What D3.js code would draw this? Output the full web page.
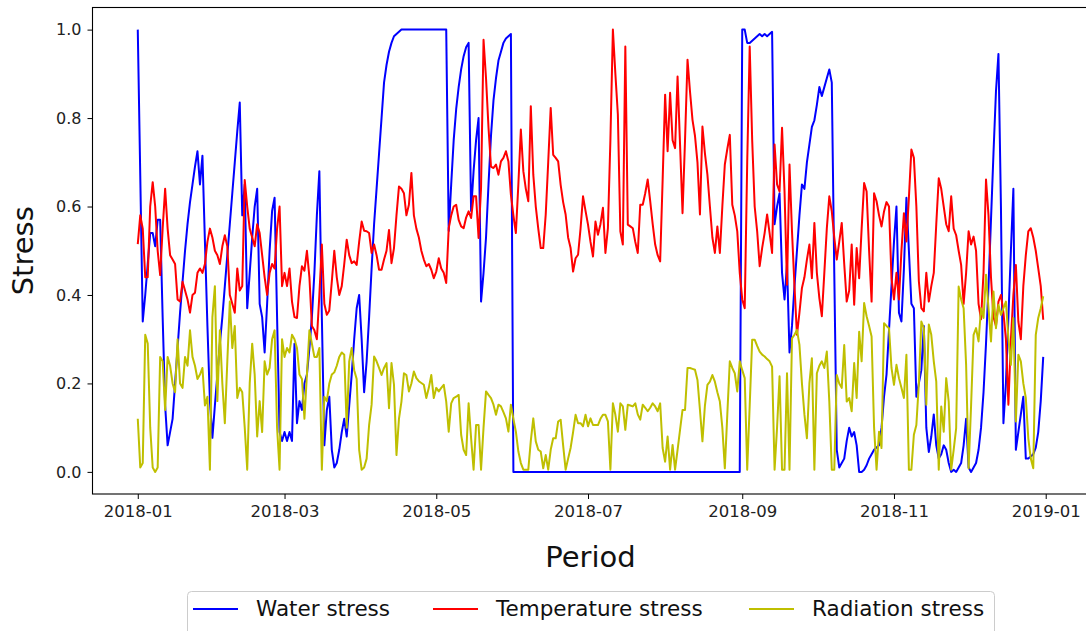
<!DOCTYPE html>
<html>
<head>
<meta charset="utf-8">
<script src="https://cdn.jsdelivr.net/npm/d3@7/dist/d3.min.js"></script>
<style>
  html, body { margin: 0; padding: 0; background: #fff; }
  svg { display: block; font-family: "DejaVu Sans", sans-serif; }
</style>
</head>
<body>
<svg id="chart" width="1086" height="631"></svg>
<script>
// ---- DATA (daily values, 2018-01-01 .. 2018-12-31) ----
const startDate = "2018-01-01";
const seriesNames = ["Water stress", "Temperature stress", "Radiation stress"];
const xTickLabels = ["2018-01", "2018-03", "2018-05", "2018-07", "2018-09", "2018-11", "2019-01"];
const yTickValues = [0.0, 0.2, 0.4, 0.6, 0.8, 1.0];

const waterStress = [
  1.0, 0.67, 0.34, 0.4, 0.47, 0.54, 0.54, 0.51, 0.57, 0.57,
  0.35, 0.15, 0.06, 0.09, 0.12, 0.2, 0.28, 0.36, 0.43, 0.5,
  0.56, 0.61, 0.65, 0.69, 0.725, 0.65, 0.715, 0.52, 0.33, 0.16,
  0.077, 0.15, 0.22, 0.29, 0.35, 0.42, 0.49, 0.56, 0.63, 0.7,
  0.77, 0.835, 0.58, 0.65, 0.37, 0.45, 0.53, 0.6, 0.64, 0.38,
  0.35, 0.27, 0.38, 0.5, 0.59, 0.62, 0.35, 0.09, 0.07, 0.09,
  0.07, 0.09, 0.07, 0.29, 0.11, 0.16, 0.14, 0.2, 0.22, 0.28,
  0.35, 0.45, 0.58, 0.68, 0.35, 0.06, 0.14, 0.17, 0.05, 0.01,
  0.02, 0.05, 0.09, 0.12, 0.08, 0.15, 0.22, 0.3, 0.37, 0.4,
  0.3, 0.18, 0.25, 0.35, 0.46, 0.56, 0.64, 0.72, 0.8, 0.88,
  0.92, 0.95, 0.97, 0.985, 0.99, 0.995, 1, 1, 1, 1,
  1, 1, 1, 1, 1, 1, 1, 1, 1, 1,
  1, 1, 1, 1, 1, 0.545, 0.65, 0.75, 0.82, 0.87,
  0.91, 0.94, 0.96, 0.97, 0.59, 0.68, 0.75, 0.8, 0.385, 0.45,
  0.53, 0.65, 0.76, 0.84, 0.89, 0.93, 0.95, 0.97, 0.98, 0.985,
  0.99, 0, 0, 0, 0, 0, 0, 0, 0, 0,
  0, 0, 0, 0, 0, 0, 0, 0, 0, 0,
  0, 0, 0, 0, 0, 0, 0, 0, 0, 0,
  0, 0, 0, 0, 0, 0, 0, 0, 0, 0,
  0, 0, 0, 0, 0, 0, 0, 0, 0, 0,
  0, 0, 0, 0, 0, 0, 0, 0, 0, 0,
  0, 0, 0, 0, 0, 0, 0, 0, 0, 0,
  0, 0, 0, 0, 0, 0, 0, 0, 0, 0,
  0, 0, 0, 0, 0, 0, 0, 0, 0, 0,
  0, 0, 0, 1, 1, 0.97, 0.97, 0.975, 0.98, 0.985,
  0.99, 0.985, 0.99, 0.985, 0.99, 0.995, 0.56, 0.6, 0.63, 0.45,
  0.39, 0.47, 0.27, 0.33, 0.42, 0.5, 0.58, 0.65, 0.64, 0.7,
  0.74, 0.78, 0.795, 0.83, 0.87, 0.85, 0.87, 0.89, 0.91, 0.88,
  0.45, 0.05, 0.01, 0.02, 0.03, 0.07, 0.1, 0.08, 0.09, 0.06,
  0, 0, 0.005, 0.015, 0.03, 0.04, 0.05, 0.055, 0.06, 0.1,
  0.17, 0.22, 0.32, 0.42, 0.52, 0.6, 0.36, 0.34, 0.46, 0.62,
  0.5, 0.38, 0.37, 0.17, 0.2, 0.23, 0.33, 0.1, 0.045, 0.08,
  0.13, 0.06, 0.03, 0.04, 0.06, 0.05, 0.02, 0, 0.005, 0,
  0.01, 0.02, 0.06, 0.12, 0.01, 0, 0.01, 0.02, 0.05, 0.1,
  0.18, 0.29, 0.42, 0.57, 0.72, 0.86, 0.945, 0.6, 0.11, 0.2,
  0.35, 0.5, 0.64, 0.05, 0.09, 0.13, 0.17, 0.03, 0.03, 0.035,
  0.04, 0.055, 0.09, 0.16, 0.26
];

const temperatureStress = [
  0.515, 0.58, 0.55, 0.44, 0.44, 0.6, 0.655, 0.6, 0.5, 0.445,
  0.55, 0.64, 0.55, 0.49, 0.48, 0.47, 0.39, 0.385, 0.43, 0.41,
  0.39, 0.36, 0.4, 0.405, 0.45, 0.46, 0.45, 0.47, 0.52, 0.55,
  0.53, 0.5, 0.49, 0.47, 0.51, 0.535, 0.51, 0.4, 0.38, 0.36,
  0.46, 0.41, 0.42, 0.66, 0.6, 0.55, 0.53, 0.51, 0.56, 0.54,
  0.49, 0.44, 0.4, 0.45, 0.47, 0.46, 0.55, 0.6, 0.42, 0.45,
  0.42, 0.46, 0.385, 0.35, 0.348, 0.42, 0.465, 0.455, 0.5, 0.44,
  0.33, 0.32, 0.3, 0.4, 0.514, 0.38, 0.355, 0.365, 0.43, 0.5,
  0.44, 0.4, 0.42, 0.47, 0.525, 0.49, 0.472, 0.476, 0.468, 0.52,
  0.566, 0.545, 0.544, 0.54, 0.495, 0.514, 0.49, 0.457, 0.457, 0.48,
  0.5, 0.547, 0.472, 0.506, 0.58, 0.645, 0.64, 0.63, 0.58, 0.604,
  0.676, 0.58, 0.55, 0.53, 0.5, 0.48, 0.465, 0.47, 0.457, 0.438,
  0.453, 0.483, 0.46, 0.45, 0.427, 0.551, 0.58, 0.6, 0.604, 0.57,
  0.555, 0.551, 0.575, 0.589, 0.574, 0.623, 0.623, 0.529, 0.642, 0.977,
  0.89, 0.778, 0.69, 0.687, 0.695, 0.672, 0.702, 0.71, 0.725, 0.702,
  0.627, 0.58, 0.54, 0.65, 0.774, 0.68, 0.64, 0.612, 0.827, 0.672,
  0.6, 0.55, 0.506, 0.506, 0.582, 0.7, 0.823, 0.717, 0.71, 0.702,
  0.649, 0.61, 0.582, 0.53, 0.506, 0.453, 0.483, 0.491, 0.55, 0.623,
  0.59, 0.559, 0.52, 0.487, 0.566, 0.536, 0.56, 0.597, 0.495, 0.551,
  0.75, 1.0, 0.9, 0.808, 0.544, 0.514, 0.962, 0.559, 0.555, 0.551,
  0.52, 0.495, 0.604, 0.604, 0.63, 0.661, 0.612, 0.56, 0.514, 0.49,
  0.476, 0.66, 0.853, 0.725, 0.857, 0.75, 0.732, 0.894, 0.74, 0.585,
  0.75, 0.932, 0.86, 0.796, 0.76, 0.7, 0.582, 0.781, 0.72, 0.672,
  0.6, 0.53, 0.495, 0.555, 0.495, 0.6, 0.695, 0.73, 0.762, 0.604,
  0.58, 0.544, 0.45, 0.39, 0.37, 0.7, 0.962, 0.75, 0.6, 0.544,
  0.465, 0.506, 0.54, 0.582, 0.54, 0.495, 0.74, 0.65, 0.634, 0.778,
  0.634, 0.423, 0.695, 0.544, 0.42, 0.31, 0.36, 0.416, 0.44, 0.48,
  0.514, 0.438, 0.563, 0.45, 0.393, 0.352, 0.45, 0.55, 0.623, 0.589,
  0.53, 0.48, 0.52, 0.563, 0.47, 0.385, 0.41, 0.514, 0.378, 0.506,
  0.438, 0.55, 0.653, 0.634, 0.5, 0.385, 0.63, 0.612, 0.58, 0.555,
  0.589, 0.61, 0.6, 0.438, 0.39, 0.45, 0.39, 0.5, 0.585, 0.521,
  0.62, 0.729, 0.71, 0.6, 0.431, 0.37, 0.363, 0.45, 0.385, 0.42,
  0.45, 0.56, 0.664, 0.64, 0.6, 0.56, 0.544, 0.623, 0.55, 0.535,
  0.5, 0.468, 0.38, 0.45, 0.544, 0.514, 0.532, 0.5, 0.38, 0.345,
  0.45, 0.661, 0.58, 0.44, 0.35, 0.33, 0.385, 0.4, 0.36, 0.3,
  0.152, 0.3, 0.4, 0.468, 0.34, 0.3, 0.42, 0.49, 0.544, 0.551,
  0.53, 0.5, 0.46, 0.42, 0.344
];

const radiationStress = [
  0.12, 0.01, 0.02, 0.31, 0.29, 0.1, 0.01, 0, 0.01, 0.26,
  0.25, 0.14, 0.26, 0.24, 0.2, 0.18, 0.3, 0.2, 0.19, 0.26,
  0.24, 0.32, 0.26, 0.24, 0.21, 0.22, 0.235, 0.15, 0.17, 0.005,
  0.35, 0.42, 0.16, 0.32, 0.2, 0.11, 0.25, 0.385, 0.28, 0.33,
  0.167, 0.19, 0.18, 0.1, 0.005, 0.2, 0.29, 0.22, 0.08, 0.16,
  0.09, 0.25, 0.22, 0.235, 0.3, 0.32, 0.1, 0.005, 0.3, 0.26,
  0.28, 0.27, 0.31, 0.3, 0.28, 0.22, 0.21, 0.12, 0.22, 0.32,
  0.29, 0.26, 0.26, 0.28, 0.005, 0.17, 0.16, 0.2, 0.22, 0.225,
  0.24, 0.26, 0.27, 0.265, 0.1, 0.25, 0.28, 0.23, 0.21, 0.05,
  0.005, 0.01, 0.03, 0.106, 0.152, 0.261, 0.25, 0.235, 0.219, 0.235,
  0.246, 0.144, 0.246, 0.197, 0.038, 0.12, 0.159, 0.223, 0.219, 0.182,
  0.2, 0.227, 0.212, 0.205, 0.201, 0.197, 0.167, 0.19, 0.219, 0.167,
  0.19, 0.182, 0.19, 0.197, 0.159, 0.091, 0.155, 0.167, 0.17, 0.174,
  0.084, 0.05, 0.038, 0.155, 0.076, 0.005, 0.106, 0.106, 0.005, 0.1,
  0.182, 0.174, 0.167, 0.152, 0.129, 0.152, 0.148, 0.135, 0.121, 0.091,
  0.152, 0.12, 0.091, 0.046, 0.02, 0.005, 0.005, 0.005, 0.07, 0.121,
  0.069, 0.05, 0.046, 0.008, 0.038, 0.005, 0.05, 0.076, 0.076, 0.114,
  0.118, 0.06, 0.005, 0.03, 0.054, 0.09, 0.129, 0.11, 0.11, 0.103,
  0.129, 0.103, 0.121, 0.106, 0.106, 0.106, 0.12, 0.129, 0.129, 0.114,
  0.005, 0.155, 0.129, 0.091, 0.155, 0.148, 0.095, 0.152, 0.15, 0.148,
  0.155, 0.13, 0.118, 0.152, 0.145, 0.137, 0.145, 0.155, 0.148, 0.137,
  0.155, 0.054, 0.023, 0.08, 0.005, 0.061, 0.005, 0.05, 0.095, 0.14,
  0.14, 0.235, 0.235, 0.233, 0.231, 0.208, 0.14, 0.069, 0.15, 0.197,
  0.204, 0.219, 0.204, 0.18, 0.159, 0.1, 0.008, 0.13, 0.25, 0.235,
  0.223, 0.182, 0.25, 0.23, 0.212, 0.005, 0.15, 0.299, 0.299, 0.285,
  0.272, 0.265, 0.261, 0.255, 0.25, 0.238, 0.005, 0.1, 0.216, 0.005,
  0.005, 0.223, 0.005, 0.302, 0.31, 0.321, 0.287, 0.2, 0.13, 0.076,
  0.2, 0.257, 0.005, 0.223, 0.24, 0.25, 0.235, 0.272, 0.159, 0.005,
  0.005, 0.219, 0.2, 0.19, 0.287, 0.159, 0.167, 0.137, 0.246, 0.167,
  0.317, 0.25, 0.382, 0.352, 0.33, 0.306, 0.1, 0.005, 0.091, 0.054,
  0.336, 0.33, 0.325, 0.235, 0.197, 0.242, 0.212, 0.19, 0.167, 0.265,
  0.005, 0.005, 0.084, 0.106, 0.2, 0.34, 0.325, 0.152, 0.333, 0.31,
  0.25, 0.204, 0.005, 0.148, 0.091, 0.212, 0.159, 0.005, 0.05, 0.099,
  0.419, 0.39, 0.37, 0.242, 0.008, 0.15, 0.31, 0.325, 0.295, 0.37,
  0.348, 0.446, 0.37, 0.295, 0.408, 0.325, 0.378, 0.355, 0.37, 0.385,
  0.302, 0.242, 0.348, 0.114, 0.265, 0.25, 0.2, 0.167, 0.076, 0.03,
  0.008, 0.31, 0.348, 0.37, 0.397
];

const seriesColors = ["#0000ff", "#ff0000", "#bfbf00"];

// ---- LAYOUT ----
const plot = { left: 92.5, right: 1088.5, top: 7.5, bottom: 494 };

const svg = d3.select("#chart");
const parse = d3.timeParse("%Y-%m-%d");
const t0 = parse(startDate);
const dates = waterStress.map((_, i) => d3.timeDay.offset(t0, i));
const series = [waterStress, temperatureStress, radiationStress];

const tFirst = dates[0], tLast = dates[dates.length - 1];
const span = tLast - tFirst;
const x = d3.scaleTime()
  .domain([new Date(+tFirst - span * 0.05), new Date(+tLast + span * 0.05)])
  .range([plot.left, plot.right]);
const y = d3.scaleLinear().domain([-0.05, 1.05]).range([plot.bottom, plot.top]);

// lines
const line = d3.line().x((d, i) => x(dates[i])).y(d => y(d));
series.forEach((s, k) => {
  svg.append("path")
    .datum(s)
    .attr("fill", "none")
    .attr("stroke", seriesColors[k])
    .attr("stroke-width", 2)
    .attr("stroke-linejoin", "round")
    .attr("d", line);
});

// frame
svg.append("rect")
  .attr("x", plot.left).attr("y", plot.top)
  .attr("width", plot.right - plot.left).attr("height", plot.bottom - plot.top)
  .attr("fill", "none").attr("stroke", "#000").attr("stroke-width", 1.1);

// axes
const xTickDates = xTickLabels.map(s => d3.timeParse("%Y-%m")(s));
const xAxis = d3.axisBottom(x).tickValues(xTickDates).tickFormat(d3.timeFormat("%Y-%m"))
  .tickSize(5).tickPadding(6);
const gx = svg.append("g").attr("transform", `translate(0,${plot.bottom})`).call(xAxis);
gx.select(".domain").remove();
gx.selectAll("text").attr("font-size", 16.5).attr("font-family", "DejaVu Sans").attr("fill", "#222");

const yAxis = d3.axisLeft(y).tickValues(yTickValues).tickFormat(d3.format(".1f"))
  .tickSize(5).tickPadding(6);
const gy = svg.append("g").attr("transform", `translate(${plot.left},0)`).call(yAxis);
gy.select(".domain").remove();
gy.selectAll("text").attr("font-size", 16).attr("font-family", "DejaVu Sans").attr("fill", "#222");

// axis labels
svg.append("text")
  .attr("x", (plot.left + plot.right) / 2).attr("y", 567)
  .attr("text-anchor", "middle").attr("font-size", 29).attr("fill", "#111")
  .text("Period");
svg.append("text")
  .attr("transform", `translate(33,${(plot.top + plot.bottom) / 2}) rotate(-90)`)
  .attr("text-anchor", "middle").attr("font-size", 29).attr("fill", "#111")
  .text("Stress");

// legend
const lg = svg.append("g");
lg.append("rect")
  .attr("x", 187.5).attr("y", 591.5).attr("width", 807).attr("height", 44)
  .attr("rx", 4).attr("fill", "#fff").attr("stroke", "#cccccc").attr("stroke-width", 1);
const legendX = [193, 433, 749];
seriesNames.forEach((name, k) => {
  lg.append("line")
    .attr("x1", legendX[k]).attr("x2", legendX[k] + 45)
    .attr("y1", 609).attr("y2", 609)
    .attr("stroke", seriesColors[k]).attr("stroke-width", 2);
  lg.append("text")
    .attr("x", legendX[k] + 63).attr("y", 616)
    .attr("font-size", 21.5).attr("fill", "#111")
    .text(name);
});
</script>
</body>
</html>
